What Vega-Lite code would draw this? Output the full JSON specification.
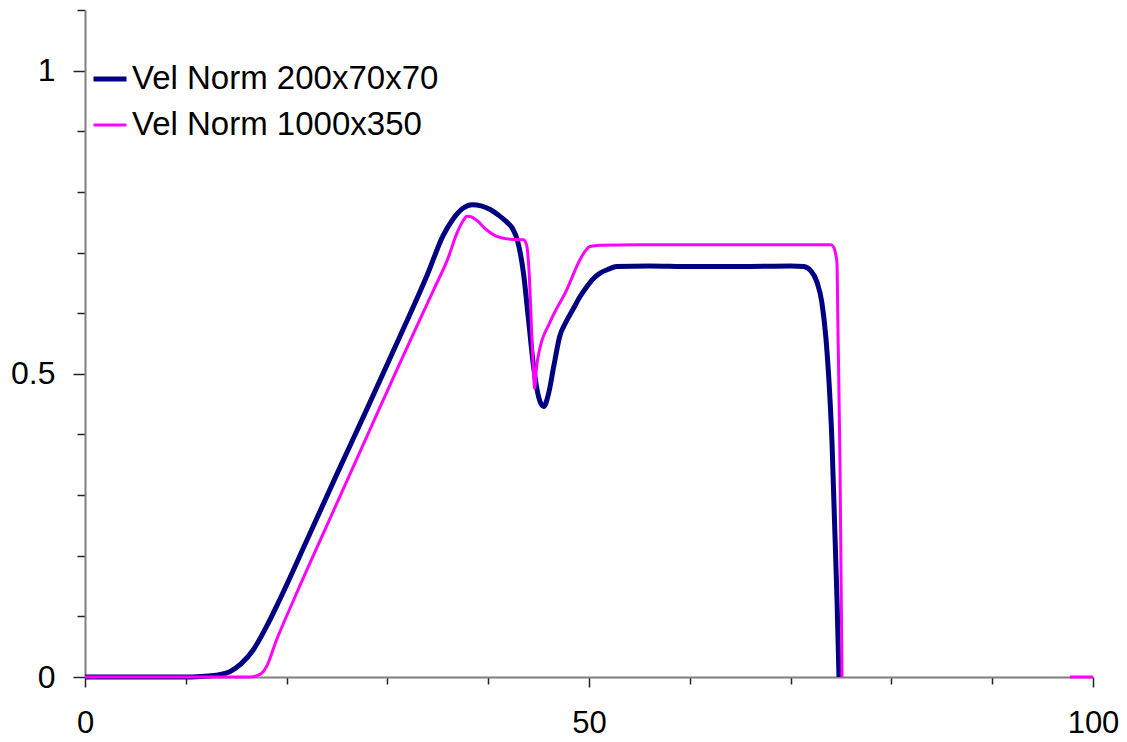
{
  "$schema": "https://vega.github.io/schema/vega-lite/v6.json",
  "autosize": {"type": "none"},
  "width": 1008,
  "height": 667,
  "padding": {"left": 85, "top": 10, "right": 34, "bottom": 65},
  "background": "white",
  "config": {
    "view": {"stroke": null},
    "font": "Liberation Sans",
    "axis": {"labelFont": "Liberation Sans", "labelFontSize": 32, "labelColor": "black", "grid": false, "domainColor": "#7f7f7f", "domainWidth": 2, "tickColor": "#222", "tickWidth": 1.5},
    "legend": {"labelFontSize": 33, "labelFont": "Liberation Sans", "labelColor": "black"}
  },
  "data": {"values": [
    {"x":0,"y":0,"s":"Vel Norm 200x70x70","g":"a"},
    {"x":5,"y":0,"s":"Vel Norm 200x70x70","g":"a"},
    {"x":10,"y":0,"s":"Vel Norm 200x70x70","g":"a"},
    {"x":11.5,"y":0.001,"s":"Vel Norm 200x70x70","g":"a"},
    {"x":13,"y":0.003,"s":"Vel Norm 200x70x70","g":"a"},
    {"x":14.4,"y":0.009,"s":"Vel Norm 200x70x70","g":"a"},
    {"x":15.5,"y":0.022,"s":"Vel Norm 200x70x70","g":"a"},
    {"x":16.7,"y":0.045,"s":"Vel Norm 200x70x70","g":"a"},
    {"x":18,"y":0.083,"s":"Vel Norm 200x70x70","g":"a"},
    {"x":19.3,"y":0.127,"s":"Vel Norm 200x70x70","g":"a"},
    {"x":22,"y":0.225,"s":"Vel Norm 200x70x70","g":"a"},
    {"x":25,"y":0.335,"s":"Vel Norm 200x70x70","g":"a"},
    {"x":28,"y":0.443,"s":"Vel Norm 200x70x70","g":"a"},
    {"x":31.25,"y":0.562,"s":"Vel Norm 200x70x70","g":"a"},
    {"x":34,"y":0.665,"s":"Vel Norm 200x70x70","g":"a"},
    {"x":35.5,"y":0.727,"s":"Vel Norm 200x70x70","g":"a"},
    {"x":36.5,"y":0.755,"s":"Vel Norm 200x70x70","g":"a"},
    {"x":37.5,"y":0.773,"s":"Vel Norm 200x70x70","g":"a"},
    {"x":38.4,"y":0.779,"s":"Vel Norm 200x70x70","g":"a"},
    {"x":39.3,"y":0.777,"s":"Vel Norm 200x70x70","g":"a"},
    {"x":40.2,"y":0.771,"s":"Vel Norm 200x70x70","g":"a"},
    {"x":41.0,"y":0.762,"s":"Vel Norm 200x70x70","g":"a"},
    {"x":41.8,"y":0.751,"s":"Vel Norm 200x70x70","g":"a"},
    {"x":42.4,"y":0.74,"s":"Vel Norm 200x70x70","g":"a"},
    {"x":42.9,"y":0.72,"s":"Vel Norm 200x70x70","g":"a"},
    {"x":43.5,"y":0.666,"s":"Vel Norm 200x70x70","g":"a"},
    {"x":44.0,"y":0.589,"s":"Vel Norm 200x70x70","g":"a"},
    {"x":44.5,"y":0.512,"s":"Vel Norm 200x70x70","g":"a"},
    {"x":45.0,"y":0.462,"s":"Vel Norm 200x70x70","g":"a"},
    {"x":45.5,"y":0.446,"s":"Vel Norm 200x70x70","g":"a"},
    {"x":46.0,"y":0.468,"s":"Vel Norm 200x70x70","g":"a"},
    {"x":46.5,"y":0.512,"s":"Vel Norm 200x70x70","g":"a"},
    {"x":47.1,"y":0.562,"s":"Vel Norm 200x70x70","g":"a"},
    {"x":47.7,"y":0.585,"s":"Vel Norm 200x70x70","g":"a"},
    {"x":48.4,"y":0.606,"s":"Vel Norm 200x70x70","g":"a"},
    {"x":49.1,"y":0.627,"s":"Vel Norm 200x70x70","g":"a"},
    {"x":49.8,"y":0.644,"s":"Vel Norm 200x70x70","g":"a"},
    {"x":50.5,"y":0.658,"s":"Vel Norm 200x70x70","g":"a"},
    {"x":51.1,"y":0.666,"s":"Vel Norm 200x70x70","g":"a"},
    {"x":52.0,"y":0.673,"s":"Vel Norm 200x70x70","g":"a"},
    {"x":52.7,"y":0.677,"s":"Vel Norm 200x70x70","g":"a"},
    {"x":56,"y":0.678,"s":"Vel Norm 200x70x70","g":"a"},
    {"x":60,"y":0.677,"s":"Vel Norm 200x70x70","g":"a"},
    {"x":65,"y":0.677,"s":"Vel Norm 200x70x70","g":"a"},
    {"x":70,"y":0.678,"s":"Vel Norm 200x70x70","g":"a"},
    {"x":71.3,"y":0.677,"s":"Vel Norm 200x70x70","g":"a"},
    {"x":72.0,"y":0.67,"s":"Vel Norm 200x70x70","g":"a"},
    {"x":72.6,"y":0.652,"s":"Vel Norm 200x70x70","g":"a"},
    {"x":73.1,"y":0.618,"s":"Vel Norm 200x70x70","g":"a"},
    {"x":73.5,"y":0.56,"s":"Vel Norm 200x70x70","g":"a"},
    {"x":73.8,"y":0.49,"s":"Vel Norm 200x70x70","g":"a"},
    {"x":74.1,"y":0.39,"s":"Vel Norm 200x70x70","g":"a"},
    {"x":74.35,"y":0.26,"s":"Vel Norm 200x70x70","g":"a"},
    {"x":74.6,"y":0.13,"s":"Vel Norm 200x70x70","g":"a"},
    {"x":74.8,"y":0,"s":"Vel Norm 200x70x70","g":"a"},
    {"x":0,"y":0,"s":"Vel Norm 1000x350","g":"a"},
    {"x":10,"y":0,"s":"Vel Norm 1000x350","g":"a"},
    {"x":16.5,"y":0,"s":"Vel Norm 1000x350","g":"a"},
    {"x":17.0,"y":0.002,"s":"Vel Norm 1000x350","g":"a"},
    {"x":17.5,"y":0.006,"s":"Vel Norm 1000x350","g":"a"},
    {"x":18.0,"y":0.017,"s":"Vel Norm 1000x350","g":"a"},
    {"x":19.0,"y":0.061,"s":"Vel Norm 1000x350","g":"a"},
    {"x":20.7,"y":0.127,"s":"Vel Norm 1000x350","g":"a"},
    {"x":24,"y":0.25,"s":"Vel Norm 1000x350","g":"a"},
    {"x":28,"y":0.398,"s":"Vel Norm 1000x350","g":"a"},
    {"x":31.25,"y":0.518,"s":"Vel Norm 1000x350","g":"a"},
    {"x":34.6,"y":0.639,"s":"Vel Norm 1000x350","g":"a"},
    {"x":36.0,"y":0.69,"s":"Vel Norm 1000x350","g":"a"},
    {"x":36.9,"y":0.732,"s":"Vel Norm 1000x350","g":"a"},
    {"x":37.5,"y":0.752,"s":"Vel Norm 1000x350","g":"a"},
    {"x":37.9,"y":0.76,"s":"Vel Norm 1000x350","g":"a"},
    {"x":38.3,"y":0.759,"s":"Vel Norm 1000x350","g":"a"},
    {"x":38.8,"y":0.754,"s":"Vel Norm 1000x350","g":"a"},
    {"x":39.8,"y":0.738,"s":"Vel Norm 1000x350","g":"a"},
    {"x":40.8,"y":0.727,"s":"Vel Norm 1000x350","g":"a"},
    {"x":42.2,"y":0.722,"s":"Vel Norm 1000x350","g":"a"},
    {"x":43.5,"y":0.721,"s":"Vel Norm 1000x350","g":"a"},
    {"x":43.8,"y":0.713,"s":"Vel Norm 1000x350","g":"a"},
    {"x":44.1,"y":0.655,"s":"Vel Norm 1000x350","g":"a"},
    {"x":44.3,"y":0.573,"s":"Vel Norm 1000x350","g":"a"},
    {"x":44.5,"y":0.501,"s":"Vel Norm 1000x350","g":"a"},
    {"x":44.6,"y":0.476,"s":"Vel Norm 1000x350","g":"a"},
    {"x":44.8,"y":0.512,"s":"Vel Norm 1000x350","g":"a"},
    {"x":45.1,"y":0.54,"s":"Vel Norm 1000x350","g":"a"},
    {"x":46.1,"y":0.584,"s":"Vel Norm 1000x350","g":"a"},
    {"x":47.8,"y":0.639,"s":"Vel Norm 1000x350","g":"a"},
    {"x":49.1,"y":0.688,"s":"Vel Norm 1000x350","g":"a"},
    {"x":49.6,"y":0.702,"s":"Vel Norm 1000x350","g":"a"},
    {"x":50.1,"y":0.71,"s":"Vel Norm 1000x350","g":"a"},
    {"x":51.1,"y":0.712,"s":"Vel Norm 1000x350","g":"a"},
    {"x":55,"y":0.713,"s":"Vel Norm 1000x350","g":"a"},
    {"x":60,"y":0.713,"s":"Vel Norm 1000x350","g":"a"},
    {"x":65,"y":0.713,"s":"Vel Norm 1000x350","g":"a"},
    {"x":70,"y":0.713,"s":"Vel Norm 1000x350","g":"a"},
    {"x":74.0,"y":0.713,"s":"Vel Norm 1000x350","g":"a"},
    {"x":74.3,"y":0.708,"s":"Vel Norm 1000x350","g":"a"},
    {"x":74.5,"y":0.695,"s":"Vel Norm 1000x350","g":"a"},
    {"x":74.6,"y":0.683,"s":"Vel Norm 1000x350","g":"a"},
    {"x":74.7,"y":0.573,"s":"Vel Norm 1000x350","g":"a"},
    {"x":74.9,"y":0.353,"s":"Vel Norm 1000x350","g":"a"},
    {"x":75.1,"y":0,"s":"Vel Norm 1000x350","g":"a"},
    {"x":97.7,"y":0,"s":"Vel Norm 1000x350","g":"b"},
    {"x":100,"y":0,"s":"Vel Norm 1000x350","g":"b"}
  ]},
  "mark": {"type": "line", "interpolate": "monotone", "clip": false},
  "encoding": {
    "x": {"field": "x", "type": "quantitative",
      "scale": {"domain": [0, 100], "nice": false},
      "axis": {"title": null, "values": [0,10,20,30,40,50,60,70,80,90,100],
        "labelExpr": "datum.value % 50 === 0 ? datum.label : ''",
        "tickSize": {"condition": {"test": "datum.value % 50 === 0", "value": 10}, "value": 7},
        "labelFontSize": 31, "labelPadding": 21, "labelFlush": false, "labelOverlap": false}},
    "y": {"field": "y", "type": "quantitative",
      "scale": {"domain": [0, 1.1], "nice": false},
      "axis": {"title": null, "values": [0,0.1,0.2,0.3,0.4,0.5,0.6,0.7,0.8,0.9,1,1.1],
        "labelExpr": "abs(datum.value*2 - round(datum.value*2)) < 0.000001 ? format(datum.value, '~g') : ''",
        "tickSize": {"condition": {"test": "abs(datum.value*2 - round(datum.value*2)) < 0.000001", "value": 12}, "value": 8},
        "labelPadding": 18, "labelOverlap": false, "labelFlush": false}},
    "color": {"field": "s", "type": "nominal",
      "scale": {"domain": ["Vel Norm 200x70x70", "Vel Norm 1000x350"], "range": ["#000080", "#ff00ff"]},
      "legend": {"title": null, "orient": "none", "legendX": 6, "legendY": 50,
        "symbolType": "stroke", "symbolSize": 1089, "labelFontSize": 33,
        "labelLimit": 600, "labelOffset": 3, "rowPadding": 11}},
    "strokeWidth": {"field": "s", "type": "nominal",
      "scale": {"domain": ["Vel Norm 200x70x70", "Vel Norm 1000x350"], "range": [5, 3]},
      "legend": {"title": null, "orient": "none", "legendX": 6, "legendY": 50,
        "symbolType": "stroke", "symbolSize": 1089, "labelFontSize": 33,
        "labelLimit": 600, "labelOffset": 3, "rowPadding": 11}},
    "detail": {"field": "g"}
  }
}
